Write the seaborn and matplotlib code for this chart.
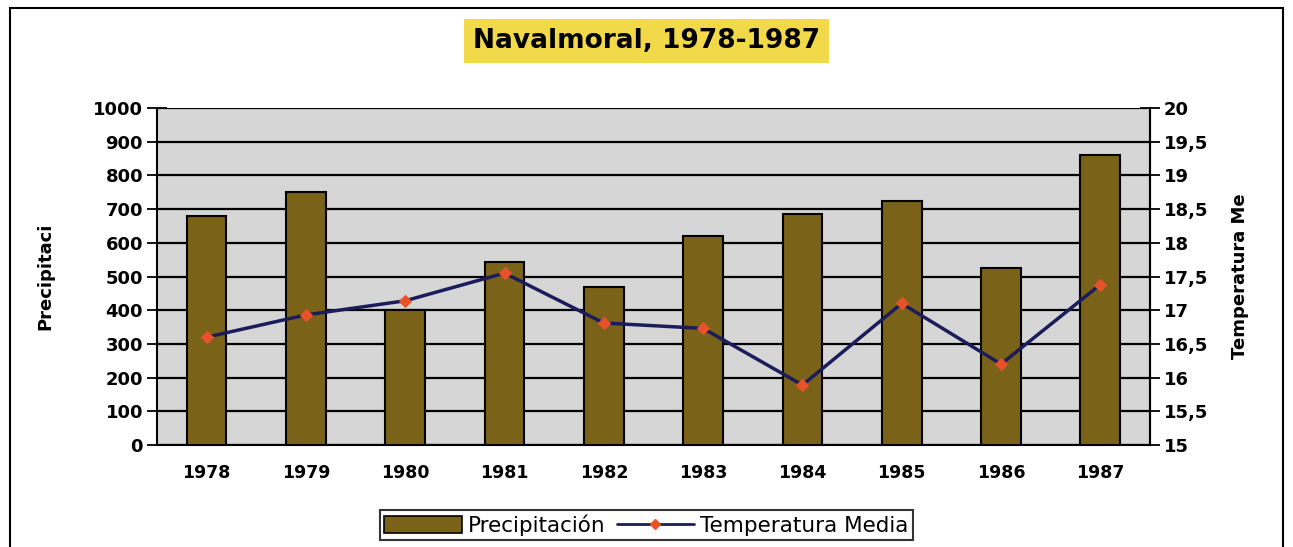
import numpy as np
import pandas as pd
import matplotlib
matplotlib.use("Agg")
import matplotlib.pyplot as plt
import seaborn as sns
from matplotlib.patches import Rectangle, Patch
from matplotlib.lines import Line2D

# data
years = ["1978", "1979", "1980", "1981", "1982", "1983", "1984", "1985", "1986", "1987"]
precip = [681, 752, 402, 542, 468, 619, 685, 724, 526, 860]
temp = [16.6, 16.93, 17.14, 17.55, 16.81, 16.73, 15.89, 17.1, 16.2, 17.38]

left_ticks = list(range(0, 1001, 100))
right_ticks = [15, 15.5, 16, 16.5, 17, 17.5, 18, 18.5, 19, 19.5, 20]
right_labels = ["15", "15,5", "16", "16,5", "17", "17,5", "18", "18,5", "19", "19,5", "20"]

BAR = "#7a6318"
LINE = "#1c1c5c"
MARK = "#e8522a"
BG = "#d6d6d6"

sns.set_style("white")
plt.rcParams["font.family"] = ["DejaVu Sans"]
plt.rcParams.update({"text.color": "black", "axes.labelcolor": "black",
                     "xtick.color": "black", "ytick.color": "black"})

df = pd.DataFrame({"year": years, "precip": precip, "temp": temp})

fig = plt.figure(figsize=(12.93, 5.47), dpi=100)
ax = fig.add_axes([0.1214, 0.1865, 0.768, 0.616])
ax.set_facecolor(BG)

sns.barplot(data=df, x="year", y="precip", color=BAR, edgecolor="black",
            linewidth=1.5, width=0.4, saturation=1, ax=ax, zorder=3)
ax.set_ylim(0, 1000)
ax.set_xlim(-0.5, len(years) - 0.5)
ax.set_yticks(left_ticks)
ax.yaxis.grid(True, color="black", linewidth=1.6, zorder=1)
ax.set_axisbelow(True)
ax.set_xlabel("")
ax.set_ylabel("Precipitaci", fontsize=13, fontweight="bold", labelpad=28)
ax.tick_params(axis="y", direction="inout", length=14, width=1.3,
               labelsize=13, pad=3)
for t in ax.get_yticklabels():
    t.set_fontweight("bold")

# x ticks between categories, labels at category centres
ax.set_xticks(np.arange(len(years)))
ax.set_xticklabels(years, fontsize=12.5, fontweight="bold")
ax.tick_params(axis="x", length=0, pad=14)
ax.set_xticks(np.arange(len(years) + 1) - 0.5, minor=True)
ax.tick_params(axis="x", which="minor", direction="out", length=8, width=1.5)

for s in ["left", "bottom"]:
    ax.spines[s].set_color("black")
    ax.spines[s].set_linewidth(1.5)
ax.spines["top"].set_visible(False)
ax.spines["right"].set_color("black")
ax.spines["right"].set_linewidth(1.5)

ax2 = ax.twinx()
sns.lineplot(x=np.arange(len(years)), y=temp, ax=ax2, color=LINE,
             linewidth=2.5, marker="D", markersize=6.5, markerfacecolor=MARK,
             markeredgecolor=MARK, zorder=5)
ax2.set_ylim(15, 20)
ax2.set_yticks(right_ticks)
ax2.set_yticklabels(right_labels, fontsize=13, fontweight="bold")
ax2.tick_params(axis="y", direction="inout", length=14, width=1.3, pad=3)
ax2.set_ylabel("Temperatura Me", fontsize=13, fontweight="bold", labelpad=16)
for s in ["top", "left", "bottom"]:
    ax2.spines[s].set_visible(False)
ax2.spines["right"].set_color("black")
ax2.spines["right"].set_linewidth(1.5)

# title with yellow box
fig.text(0.5, 0.925, "Navalmoral, 1978-1987", ha="center", va="center",
         fontsize=19, fontweight="heavy", color="black",
         bbox=dict(boxstyle="square,pad=0.33", facecolor="#f2d94a",
                   edgecolor="none"))

# legend
handles = [Patch(facecolor=BAR, edgecolor="black", linewidth=1.2),
           Line2D([0], [0], color=LINE, linewidth=2, marker="D",
                  markersize=5, markerfacecolor=MARK, markeredgecolor=MARK)]
leg = fig.legend(handles, ["Precipitación", "Temperatura Media"],
                 loc="center", bbox_to_anchor=(0.5, 0.040), ncol=2,
                 fontsize=15.5, frameon=True, fancybox=False,
                 handlelength=3.6, handleheight=0.8, handletextpad=0.3,
                 columnspacing=0.5, borderpad=0.2)
leg.get_frame().set_edgecolor("black")
leg.get_frame().set_linewidth(1.5)

# outer chart frame
fig.patches.append(Rectangle((0.008, -0.01), 0.984, 0.995,
                             transform=fig.transFigure, fill=False,
                             edgecolor="black", linewidth=1.5))

fig.savefig("out.png", dpi=100)
